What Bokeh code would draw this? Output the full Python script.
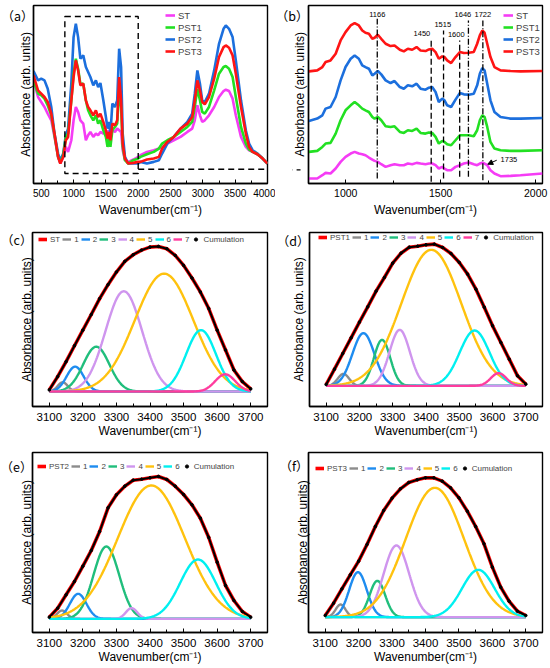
import numpy as np
from bokeh.plotting import figure
from bokeh.layouts import column, row
from bokeh.models import (Legend, LegendItem, Arrow, NormalHead,
                          SingleIntervalTicker, FixedTicker, Range1d)
from bokeh.embed import file_html
from bokeh.resources import INLINE
from bokeh.core.properties import value

FONT = "Liberation Sans"
XLABEL = "Wavenumber(cm\u207b\u00b9)"
YLABEL = "Absorbance (arb. units)"

SAMPLES = ["ST", "PST1", "PST2", "PST3"]
SAMPLE_COLORS = {"ST": "#F53CF5", "PST1": "#22E022", "PST2": "#1C6FDD", "PST3": "#FF1414"}

# ---------------- panel (a): full spectra ----------------
WN_A = [380, 450, 500, 550, 600, 655, 705, 760, 795, 840, 880, 915, 965, 1000, 1035,
        1070, 1105, 1150, 1190, 1225, 1260, 1305, 1345, 1380, 1415, 1460, 1500, 1525,
        1550, 1570, 1600, 1640, 1675, 1705, 1735, 1760, 1795, 1845, 1925, 2000,
        2035, 2135, 2240, 2320, 2370, 2450, 2550, 2655, 2760, 2835, 2875, 2915, 2955,
        2990, 3030, 3095, 3175, 3250, 3320, 3355, 3405, 3460, 3510, 3590, 3665, 3715,
        3770, 3845, 3925, 4000]
ST_A = [310, 260, 245, 230, 210, 190, 140, 80, 60, 80, 110, 95, 130, 190, 230, 215, 190,
        180, 130, 145, 155, 140, 150, 145, 155, 150, 160, 150, 160, 145, 160, 155, 165,
        160, 155, 100, 70, 65, 72, 80,
        85, 95, 100, 105, 110, 120, 130, 140, 155, 165, 190, 235, 205, 185, 190, 205,
        230, 260, 278, 282, 278, 255, 205, 140, 110, 100, 95, 88, 75, 60]
PST1_A = [310, 270, 265, 255, 235, 205, 145, 80, 62, 85, 140, 150, 250, 330, 375, 345,
          300, 300, 250, 220, 205, 190, 205, 180, 190, 160, 140, 110, 135, 110, 160, 170,
          180, 280, 230, 110, 70, 60, 70, 75,
          80, 88, 95, 105, 120, 130, 140, 155, 170, 185, 230, 285, 250, 215, 210, 230,
          280, 330, 350, 353, 345, 320, 260, 170, 120, 102, 95, 88, 75, 60]
PST2_A = [338, 310, 315, 310, 285, 230, 150, 90, 70, 90, 145, 165, 300, 440, 480, 440,
          375, 385, 350, 335, 320, 295, 310, 290, 302, 250, 200, 165, 185, 150, 240, 230,
          250, 405, 350, 150, 80, 60, 60, 60,
          65, 60, 65, 70, 90, 120, 140, 165, 185, 210, 270, 340, 300, 250, 245, 270,
          340, 420, 465, 475, 465, 440, 370, 250, 160, 120, 100, 90, 75, 60]
PST3_A = [325, 280, 270, 260, 245, 210, 150, 80, 60, 80, 130, 140, 250, 320, 370, 340,
          295, 300, 250, 230, 220, 205, 220, 200, 210, 185, 160, 135, 155, 130, 180, 175,
          190, 320, 250, 120, 75, 60, 62, 65,
          65, 72, 75, 80, 105, 125, 140, 165, 180, 200, 250, 310, 280, 245, 238, 260,
          315, 380, 410, 415, 408, 385, 330, 230, 150, 110, 95, 88, 75, 60]
ZOOM_LO, ZOOM_HI = 865, 2000

# ---------------- panel (b): 800-2000 cm-1, stacked ----------------
WN_B = [806, 850, 877, 894, 920, 947, 973, 999, 1026, 1047, 1069, 1087, 1104, 1122,
        1140, 1152, 1169, 1187, 1210, 1236, 1257, 1285, 1306, 1327, 1350, 1373,
        1394, 1420, 1438, 1455, 1473, 1490, 1508, 1520, 1534, 1555, 1578, 1601, 1622,
        1648, 1674, 1692, 1706, 1719, 1731, 1745, 1762, 1783, 1815, 1868, 1920, 2036]
ST_B = [15, 15, 25, 32, 30, 45, 65, 80, 90, 95, 90, 88, 85, 78, 72, 68, 65, 58, 50, 55,
        58, 55, 55, 60, 58, 62,
        60, 58, 60, 60, 55, 45, 50, 45, 40, 40, 50, 55, 60, 63, 58, 55, 60, 62, 60, 55,
        40, 30, 22, 23, 25, 30]
PST1_B = [95, 98, 110, 120, 122, 150, 190, 220, 235, 245, 235, 225, 220, 215, 200, 195,
          200, 190, 172, 170, 172, 155, 152, 160, 158, 165,
          152, 150, 153, 152, 140, 120, 128, 125, 118, 115, 130, 145, 145, 145, 142, 160,
          190, 205, 200, 170, 125, 105, 100, 98, 98, 100]
PST2_B = [188, 195, 205, 225, 230, 260, 310, 350, 375, 385, 375, 355, 350, 345, 325, 330,
          338, 328, 310, 302, 308, 290, 285, 295, 292, 300,
          285, 282, 288, 290, 275, 245, 255, 250, 235, 230, 252, 272, 268, 267, 270, 295,
          330, 347, 340, 300, 250, 215, 200, 195, 195, 197]
PST3_B = [337, 340, 350, 365, 370, 390, 430, 455, 475, 482, 475, 460, 453, 450, 435, 438,
          447, 435, 420, 413, 415, 402, 397, 405, 402, 410,
          400, 398, 403, 405, 395, 375, 382, 380, 370, 362, 380, 395, 392, 393, 395, 420,
          445, 460, 453, 420, 380, 350, 340, 338, 337, 338]
DASHED_BANDS = [1450, 1515, 1600]
DASHDOT_BANDS = [1166, 1646, 1722]
BAND_LABELS = ["1166", "1450", "1515", "1600", "1646", "1722"]

# ---------------- panels (c)-(f): deconvolution of the O-H band ----------------
WN_DEC = [3100, 3125, 3150, 3175, 3200, 3225, 3250, 3275, 3300, 3325, 3350, 3375, 3400,
          3425, 3450, 3475, 3500, 3525, 3550, 3575, 3600, 3625, 3650, 3675, 3700]
ENV_C = [5, 45, 90, 138, 185, 232, 280, 322, 360, 392, 412, 426, 435, 437, 430, 410,
         380, 342, 300, 250, 185, 125, 65, 30, 8]
ENV_D = [4, 50, 97, 144, 191, 237, 284, 325, 368, 398, 416, 419, 423, 425, 415, 397,
         370, 335, 290, 236, 180, 130, 80, 30, 5]
ENV_E = [5, 32, 72, 112, 158, 205, 262, 333, 372, 398, 416, 419, 423, 427, 418, 398,
         373, 342, 302, 244, 170, 100, 55, 22, 5]
ENV_F = [5, 42, 85, 127, 168, 218, 272, 320, 357, 385, 404, 412, 418, 418, 408, 388,
         358, 318, 272, 220, 150, 90, 48, 18, 5]
COMP_COLORS = ["#8C8C8C", "#1E8CF0", "#20BE7C", "#CF95EE", "#FFC20E", "#00F0F0", "#FF3C9E"]
C_CENTER = [3140, 3177, 3240, 3322, 3442, 3552, 3624]
C_HEIGHT = [28, 75, 135, 302, 355, 185, 52]
C_FWHM = [35, 60, 92, 128, 205, 105, 70]
D_CENTER = [3152, 3212, 3268, 3321, 3416, 3546, 3618]
D_HEIGHT = [36, 158, 138, 168, 408, 166, 38]
D_FWHM = [40, 78, 58, 72, 212, 105, 55]
E_CENTER = [3138, 3186, 3270, 3345, 3404, 3543]
E_HEIGHT = [25, 75, 217, 32, 400, 178]
E_FWHM = [35, 58, 90, 40, 235, 125]
F_CENTER = [3146, 3198, 3256, 3313, 3428, 3558]
F_HEIGHT = [38, 135, 109, 215, 388, 142]
F_FWHM = [35, 62, 55, 90, 205, 115]


def make_fig(width, height, xr, yr, bl, br, bt, bb, tick_size,
             tag, tag_y, tag_standoff, title_standoff):
    p = figure(width=width, height=height, x_range=Range1d(*xr), y_range=Range1d(*yr),
               output_backend="svg", toolbar_location=None,
               min_border_left=bl, min_border_right=br, min_border_top=bt,
               min_border_bottom=bb)
    p.xgrid.visible = False
    p.ygrid.visible = False
    p.outline_line_color = "black"
    p.outline_line_width = 1.4
    p.outline_line_alpha = 1
    p.border_fill_color = "white"
    for ax in (p.xaxis[0], p.yaxis[0]):
        ax.axis_line_color = "black"
        ax.axis_line_width = 1.4
        ax.axis_label_text_font = FONT
        ax.axis_label_text_font_size = "12px"
        ax.axis_label_text_font_style = "normal"
        ax.axis_label_text_color = "black"
        ax.major_label_text_color = "black"
        ax.major_tick_line_color = "black"
        ax.minor_tick_line_color = "black"
        ax.major_tick_out = 0
        ax.minor_tick_out = 0
    p.xaxis.major_label_text_font = FONT
    p.xaxis.major_label_text_font_size = tick_size
    # the panel tag "(a)" ... sits at the top-left, written as the only y tick label
    p.yaxis.ticker = FixedTicker(ticks=[tag_y], minor_ticks=[])
    p.yaxis.major_label_overrides = {tag_y: tag}
    p.yaxis.major_label_text_font = "Noto Sans CJK SC"
    p.yaxis.major_label_text_font_size = "12.5px"
    p.yaxis.major_label_standoff = tag_standoff
    p.yaxis.major_tick_in = 0
    p.yaxis.axis_label = YLABEL
    p.yaxis.axis_label_standoff = title_standoff
    p.xaxis.axis_label = XLABEL
    p.xaxis.major_tick_in = 4
    p.xaxis.minor_tick_in = 3
    return p


def sample_legend(p, renderers, location):
    items = [LegendItem(label=s, renderers=[renderers[s]]) for s in SAMPLES]
    leg = Legend(items=items, location=location, orientation="vertical",
                 label_text_font=FONT, label_text_font_size="9.5px",
                 glyph_width=10, glyph_height=10, label_height=12, label_width=0,
                 label_standoff=3, spacing=0, padding=2, margin=0,
                 border_line_alpha=0, background_fill_alpha=0)
    p.add_layout(leg)


# ---- (a)
pa = make_fig(275, 226, (380, 4000), (0, 535), 33, 8, 5, 43, "10px",
              "\uff08a\uff09", 505, 0, -35)
pa.xaxis.ticker = SingleIntervalTicker(interval=500, num_minor_ticks=2)
pa.xaxis.major_label_standoff = 5
pa.xaxis.axis_label_standoff = 3
data_a = {"ST": ST_A, "PST1": PST1_A, "PST2": PST2_A, "PST3": PST3_A}
rend_a = {}
for s in ["ST", "PST2", "PST1", "PST3"]:
    rend_a[s] = pa.line(WN_A, data_a[s], color=SAMPLE_COLORS[s], line_width=2.6)
pa.quad(left=[ZOOM_LO], right=[ZOOM_HI], bottom=[30], top=[502], fill_alpha=0,
        line_color="black", line_width=1.4, line_dash="6 4")
pa.add_layout(Arrow(end=None, x_start=ZOOM_HI, y_start=43, x_end=4300, y_end=43,
                    line_color="black", line_width=1.4, line_dash="6 4"))
sample_legend(pa, rend_a, (130, 124))

# ---- (b)
pb = make_fig(275, 226, (804, 2036), (0, 535), 33, 8, 5, 43, "10.5px",
              "\uff08b\uff09", 505, 0, -34)
pb.xaxis.ticker = SingleIntervalTicker(interval=500, num_minor_ticks=2)
pb.xaxis.major_label_standoff = 5
pb.xaxis.axis_label_standoff = 3
data_b = {"ST": ST_B, "PST1": PST1_B, "PST2": PST2_B, "PST3": PST3_B}
rend_b = {}
for s in SAMPLES:
    rend_b[s] = pb.line(WN_B, data_b[s], color=SAMPLE_COLORS[s], line_width=2.6)
band_top = {1166: 495, 1450: 435, 1515: 460, 1600: 430, 1646: 490, 1722: 490}
band_bot = {1166: 15, 1450: 5, 1515: 15, 1600: 20, 1646: 20, 1722: 10}
pb.segment(x0=DASHED_BANDS, x1=DASHED_BANDS, y0=[band_bot[b] for b in DASHED_BANDS],
           y1=[band_top[b] for b in DASHED_BANDS], line_color="black", line_width=1.3,
           line_dash="6 3")
pb.segment(x0=DASHDOT_BANDS, x1=DASHDOT_BANDS, y0=[band_bot[b] for b in DASHDOT_BANDS],
           y1=[band_top[b] for b in DASHDOT_BANDS], line_color="black", line_width=1.3,
           line_dash="6 2 1 2")
lab_x = [1166, 1401, 1511, 1582, 1617, 1722]
lab_y = [507, 452, 477, 447, 507, 507]
pb.text(x=lab_x, y=lab_y, text=BAND_LABELS, text_font=value(FONT), text_font_size="7.5px",
        text_align="center", text_baseline="middle", text_color="black")
pb.text(x=[1859], y=[72], text=["1735"], text_font=value(FONT), text_font_size="7.5px",
        text_align="center", text_baseline="middle", text_color="black")
pb.add_layout(Arrow(end=NormalHead(size=5, fill_color="black", line_color="black"),
                    x_start=1795, y_start=70, x_end=1748, y_end=58,
                    line_color="black", line_width=1))
pb.add_layout(Arrow(end=NormalHead(size=8, fill_color="black", line_color="black"),
                    x_start=636, y_start=41, x_end=762, y_end=41,
                    line_color="black", line_width=1.4, line_dash="6 4"))
sample_legend(pb, rend_b, (193, 124))


# ---- (c)-(f)
def decon(p, name, env, centers, heights, fwhm, loc):
    x = np.arange(3100, 3701, 2.0)
    comps = [h * np.exp(-0.5 * ((x - c) / (w / 2.3548)) ** 2)
             for c, h, w in zip(centers, heights, fwhm)]
    items = []
    r = p.line(WN_DEC, env, color="#FF0000", line_width=3.6)
    items.append(LegendItem(label=name, renderers=[r]))
    for i, comp in enumerate(comps):
        r = p.line(x, comp, color=COMP_COLORS[i], line_width=2.4)
        items.append(LegendItem(label=str(i + 1), renderers=[r]))
    p.line(WN_DEC, env, color="black", line_width=2)
    r = p.scatter(WN_DEC, env, size=2.6, color="black")
    items.append(LegendItem(label="Cumulation", renderers=[r]))
    leg = Legend(items=items, location=loc, orientation="horizontal",
                 label_text_font=FONT, label_text_font_size="8px",
                 glyph_width=9, glyph_height=8, label_height=10, label_width=0,
                 label_standoff=3, spacing=2, padding=1, margin=0,
                 border_line_alpha=0, background_fill_alpha=0)
    p.add_layout(leg)


pc = make_fig(275, 221, (3050, 3750), (-45, 479), 32, 8, 6, 41, "11.5px",
              "\uff08c\uff09", 458, 0, -36)
pd = make_fig(275, 221, (3050, 3750), (-62, 460), 34, 8, 6, 41, "11.5px",
              "\uff08d\uff09", 436, 0, -32)
pe = make_fig(275, 220, (3050, 3750), (-41, 499), 32, 8, 5, 35, "11.5px",
              "\uff08e\uff09", 457, 0, -36)
pf = make_fig(275, 220, (3050, 3750), (-46, 494), 33, 8, 5, 35, "11.5px",
              "\uff08f\uff09", 455, 0, -34)
for p in (pc, pd, pe, pf):
    p.xaxis.ticker = SingleIntervalTicker(interval=100, num_minor_ticks=2)
    p.xaxis.major_label_standoff = 6
    p.xaxis.axis_label_standoff = 0
decon(pc, "ST", ENV_C, C_CENTER, C_HEIGHT, C_FWHM, (5, 161))
decon(pd, "PST1", ENV_D, D_CENTER, D_HEIGHT, D_FWHM, (8, 163))
decon(pe, "PST2", ENV_E, E_CENTER, E_HEIGHT, E_FWHM, (4, 160))
decon(pf, "PST3", ENV_F, F_CENTER, F_HEIGHT, F_FWHM, (6, 158))

layout = column(row(pa, pb), row(pc, pd), row(pe, pf))
open("out.html", "w").write(file_html(layout, INLINE))
